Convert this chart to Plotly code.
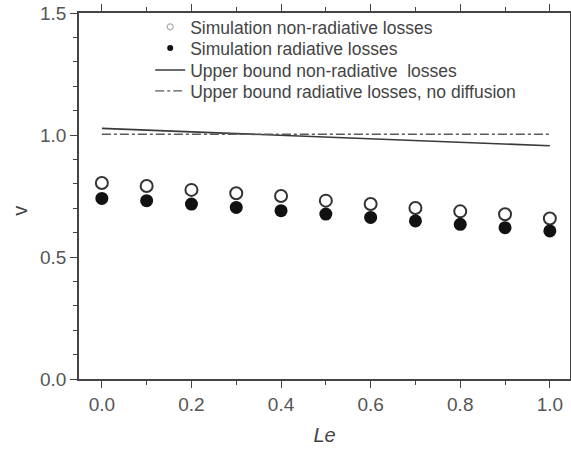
import plotly.graph_objects as go

Le = [0.0, 0.1, 0.2, 0.3, 0.4, 0.5, 0.6, 0.7, 0.8, 0.9, 1.0]
v_nonrad = [0.803, 0.791, 0.775, 0.761, 0.750, 0.731, 0.717, 0.701, 0.687, 0.675, 0.658]
v_rad = [0.740, 0.731, 0.717, 0.703, 0.690, 0.676, 0.662, 0.648, 0.634, 0.620, 0.607]
bound_x = [0.0, 1.0]
bound_nonrad = [1.027, 0.956]
bound_rad = [1.003, 1.003]

names = ["Simulation non-radiative losses",
         "Simulation radiative losses",
         "Upper bound non-radiative  losses",
         "Upper bound radiative losses, no diffusion"]

FONT = "Liberation Sans, Arial"

fig = go.Figure()
# data traces
fig.add_trace(go.Scatter(x=bound_x, y=bound_nonrad, mode="lines",
                         line=dict(color="#3a3a3a", width=1.6), showlegend=False))
fig.add_trace(go.Scatter(x=bound_x, y=bound_rad, mode="lines",
                         line=dict(color="#5a5a5a", width=1.4, dash="dashdot"), showlegend=False))
fig.add_trace(go.Scatter(x=Le, y=v_nonrad, mode="markers",
                         marker=dict(symbol="circle-open", size=12, color="#333", line=dict(width=2, color="#333")),
                         showlegend=False))
fig.add_trace(go.Scatter(x=Le, y=v_rad, mode="markers",
                         marker=dict(symbol="circle", size=13, color="#111"),
                         showlegend=False))
# legend entries (one legend per row for exact spacing)
fig.add_trace(go.Scatter(x=[None], y=[None], mode="markers", name=names[0], legend="legend",
                         marker=dict(symbol="circle-open", size=6, color="#aaa", line=dict(width=1.2, color="#aaa"))))
fig.add_trace(go.Scatter(x=[None], y=[None], mode="markers", name=names[1], legend="legend2",
                         marker=dict(symbol="circle", size=6, color="#111")))
fig.add_trace(go.Scatter(x=[None], y=[None], mode="lines", name=names[2], legend="legend3",
                         line=dict(color="#3a3a3a", width=1.6)))
fig.add_trace(go.Scatter(x=[None], y=[None], mode="lines", name=names[3], legend="legend4",
                         line=dict(color="#5a5a5a", width=1.4, dash="dashdot")))

axis_common = dict(showgrid=False, zeroline=False, showline=True, linecolor="#444", linewidth=1.6,
                   ticks="outside", ticklen=7, tickwidth=1.4, tickcolor="#444", mirror="ticks",
                   automargin=False,
                   tickfont=dict(family=FONT, size=19, color="#555"))

def leg(y):
    return dict(x=0.145, y=y, xanchor="left", yanchor="middle", bgcolor="rgba(0,0,0,0)",
                font=dict(family=FONT, size=17.5, color="#444"), itemwidth=30)

fig.update_layout(
    width=571, height=449,
    margin=dict(l=79, r=1, t=13, b=70),
    paper_bgcolor="white", plot_bgcolor="white",
    font=dict(family=FONT, color="#444"),
    showlegend=True,
    legend=leg(0.962), legend2=leg(0.904), legend3=leg(0.844), legend4=leg(0.787),
    xaxis=dict(range=[-0.051, 1.045], tickvals=[0, 0.2, 0.4, 0.6, 0.8, 1.0], ticktext=["0.0", "0.2", "0.4", "0.6", "0.8", "1.0"],
               minor=dict(tickvals=[0.1, 0.3, 0.5, 0.7, 0.9], ticklen=4, tickcolor="#444", ticks="outside"),
               title=dict(text="<i>Le</i>", font=dict(family=FONT, size=20, color="#444"), standoff=14),
               **axis_common),
    yaxis=dict(range=[0, 1.5], tickvals=[0, 0.5, 1.0, 1.5], ticktext=["0.0", "0.5", "1.0", "1.5"],
               minor=dict(tickvals=[0.1, 0.2, 0.3, 0.4, 0.6, 0.7, 0.8, 0.9, 1.1, 1.2, 1.3, 1.4], ticklen=4, tickcolor="#444", ticks="outside"),
               **axis_common),
    annotations=[dict(text="v", xref="paper", yref="paper", x=-0.12, y=0.46, xanchor="center", yanchor="middle",
                      textangle=-90, showarrow=False, font=dict(family=FONT, size=20, color="#444"))],
)

fig.write_html("out.html")
